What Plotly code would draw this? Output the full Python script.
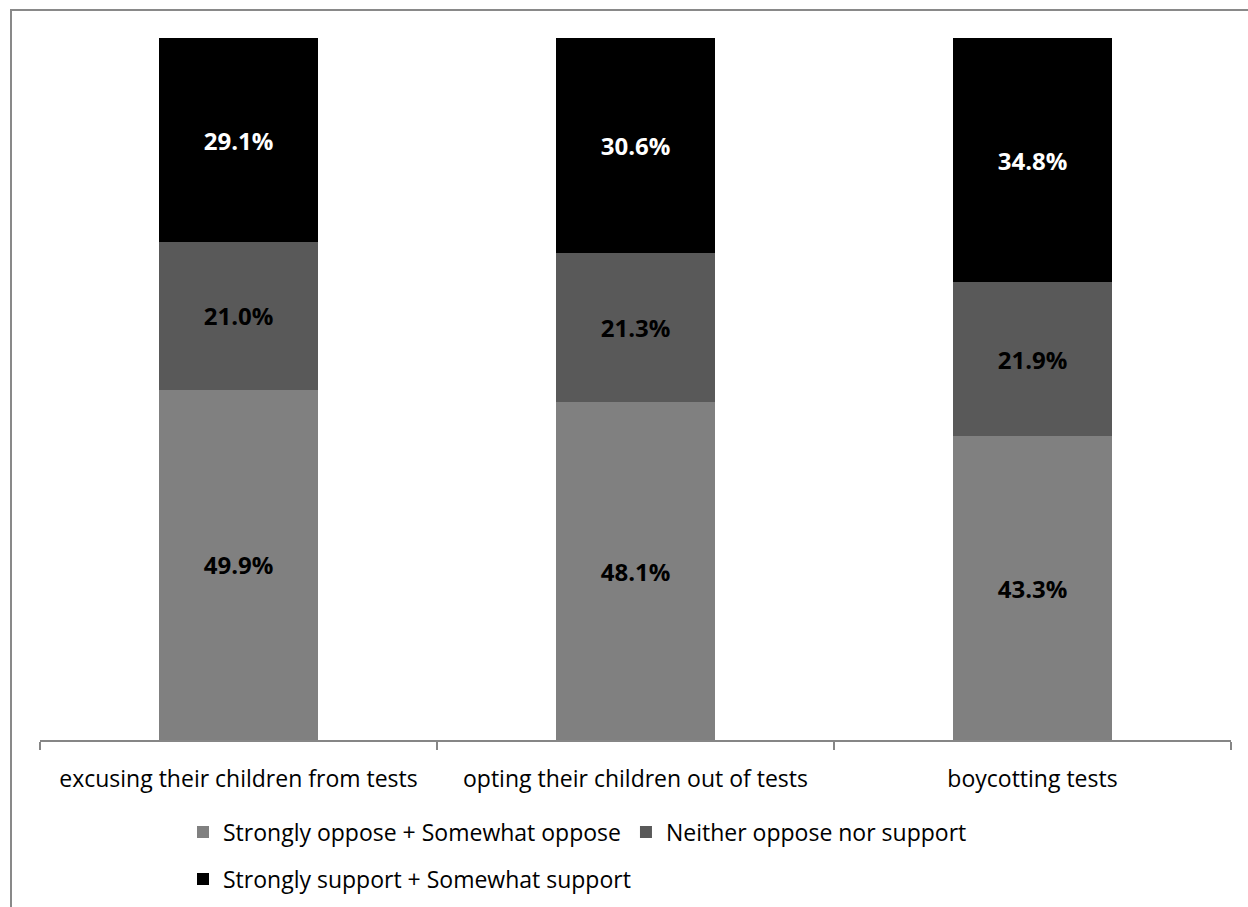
import plotly.graph_objects as go

categories = ["excusing their children from tests", "opting their children out of tests", "boycotting tests"]
oppose = [49.9, 48.1, 43.3]
neither = [21.0, 21.3, 21.9]
support = [29.1, 30.6, 34.8]
series_names = ["Strongly oppose + Somewhat oppose", "Neither oppose nor support", "Strongly support + Somewhat support"]
colors = ["#808080", "#595959", "#000000"]
label_colors = ["#000000", "#000000", "#ffffff"]

FONT = "Open Sans"
FS = 23
W, H = 1248, 907
L, R, T, B = 40, 17, 38, 167
pw, ph = W - L - R, H - T - B

def px(x):
    return (x - L) / pw

def py(y):
    return (H - B - y) / ph

fig = go.Figure()
for i, (name, vals) in enumerate(zip(series_names, [oppose, neither, support])):
    fig.add_trace(go.Bar(
        x=categories, y=vals, name=name,
        marker=dict(color=colors[i], line=dict(width=0)),
        text=[f"{v:.1f}%" for v in vals],
        textposition="inside", insidetextanchor="middle",
        textfont=dict(family=FONT, size=24, color=label_colors[i], weight="bold"),
        legend="legend" if i < 2 else "legend2",
    ))

fig.update_layout(
    width=W, height=H,
    margin=dict(l=L, r=R, t=T, b=B, autoexpand=False),
    barmode="stack", bargap=0.6,
    plot_bgcolor="white", paper_bgcolor="white",
    font=dict(family=FONT, size=FS, color="#000000"),
    xaxis=dict(showline=True, linecolor="#868686", linewidth=1.5,
               ticks="outside", ticklen=8, tickcolor="#868686", tickwidth=1.5,
               tickson="boundaries", ticklabelstandoff=18, automargin=False,
               tickfont=dict(family=FONT, size=FS, color="#000000")),
    yaxis=dict(range=[0, 100], visible=False),
    legend=dict(orientation="h", x=px(183), y=py(832), xanchor="left", yanchor="middle",
                font=dict(family=FONT, size=FS), traceorder="normal", itemwidth=30),
    legend2=dict(orientation="h", x=px(183), y=py(879), xanchor="left", yanchor="middle",
                 font=dict(family=FONT, size=FS), itemwidth=30),
    showlegend=True,
)
fig.update_traces(textangle=0, cliponaxis=False)
fig.add_shape(type="rect", xref="paper", yref="paper",
              x0=px(11), x1=px(1270), y0=py(10), y1=py(930),
              line=dict(color="#898989", width=2), layer="below")

fig.write_html("out.html")
